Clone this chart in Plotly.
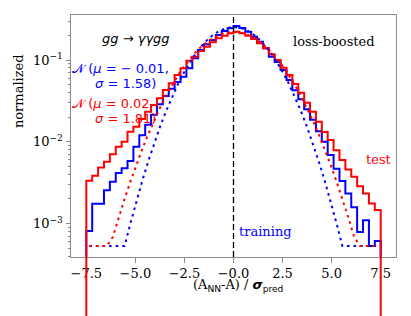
import numpy as np
import plotly.graph_objects as go

# ---------------- data ----------------
bin_lo, bin_hi, n_bins = -7.5, 7.5, 50

# training histogram (blue), normalized, one value per bin
train_hist = [8.1e-4, 1.75e-3, 1.75e-3, 2.56e-3, 3.24e-3, 4.14e-3, 4.76e-3, 5.81e-3, 8.71e-3, 1.20e-2,
              1.62e-2, 2.14e-2, 2.88e-2, 3.63e-2, 4.47e-2, 5.37e-2, 6.25e-2, 7.91e-2, 0.1050, 0.1324,
              0.1556, 0.1758, 0.2023, 0.2265, 0.2443, 0.2600, 0.2466, 0.2218, 0.1928, 0.1675,
              0.1390, 0.1096, 0.0946, 0.0755, 0.0569, 0.0427, 0.0331, 0.0251, 0.0186, 0.0135,
              0.0100, 6.92e-3, 4.68e-3, 3.31e-3, 2.34e-3, 1.58e-3, 7.9e-4, 1.10e-3, 5.3e-4, 6.1e-4]

# test histogram (red)
test_hist = [3.33e-3, 3.84e-3, 4.86e-3, 5.69e-3, 7.06e-3, 8.69e-3, 1.00e-2, 1.33e-2, 1.53e-2, 1.90e-2,
             2.33e-2, 2.81e-2, 3.40e-2, 4.30e-2, 5.19e-2, 6.55e-2, 7.91e-2, 9.77e-2, 0.1096, 0.1288,
             0.1455, 0.1648, 0.1845, 0.1982, 0.2123, 0.2223, 0.2123, 0.1982, 0.1807, 0.1600,
             0.1390, 0.1175, 0.1000, 0.0805, 0.0655, 0.0508, 0.0398, 0.0300, 0.0233, 0.0176,
             0.0132, 0.0105, 7.9e-3, 6.0e-3, 4.59e-3, 3.73e-3, 2.87e-3, 2.33e-3, 1.76e-3, 1.46e-3]

# Gaussian curves (dotted) read at bin centres
train_gauss = [5.3e-4, 5.3e-4, 5.3e-4, 5.3e-4, 5.3e-4, 5.3e-4, 5.3e-4, 1.01e-3, 1.87e-3, 3.32e-3,
               5.71e-3, 9.45e-3, 0.0151, 0.0233, 0.0346, 0.0496, 0.0687, 0.0916, 0.1179, 0.1464,
               0.1753, 0.2025, 0.2256, 0.2425, 0.2513, 0.2513, 0.2425, 0.2256, 0.2025, 0.1753,
               0.1464, 0.1179, 0.0916, 0.0687, 0.0496, 0.0346, 0.0233, 0.0151, 9.45e-3, 5.71e-3,
               3.32e-3, 1.87e-3, 1.01e-3, 5.3e-4, 5.3e-4, 5.3e-4, 5.3e-4, 5.3e-4, 5.3e-4, 5.3e-4]

test_gauss = [5.3e-4, 5.3e-4, 5.3e-4, 5.3e-4, 6.86e-4, 1.19e-3, 2.00e-3, 3.28e-3, 5.24e-3, 8.13e-3,
              0.01227, 0.0180, 0.0258, 0.0358, 0.0485, 0.0638, 0.0817, 0.1018, 0.1234, 0.1455,
              0.1669, 0.1863, 0.2022, 0.2137, 0.2196, 0.2196, 0.2137, 0.2022, 0.1863, 0.1669,
              0.1455, 0.1234, 0.1018, 0.0817, 0.0638, 0.0485, 0.0358, 0.0258, 0.0180, 0.01227,
              8.13e-3, 5.24e-3, 3.28e-3, 2.00e-3, 1.19e-3, 6.86e-4, 5.3e-4, 5.3e-4, 5.3e-4, 5.3e-4]

x_tick_vals = [-7.5, -5.0, -2.5, 0.0, 2.5, 5.0, 7.5]
x_tick_text = ["−7.5", "−5.0", "−2.5", "−0.0", "2.5", "5.0", "7.5"]
y_tick_vals = [1e-3, 1e-2, 1e-1]
y_tick_text = ["10<sup>−3</sup>", "10<sup>−2</sup>", "10<sup>−1</sup>"]

# ---------------- figure ----------------
edges = np.linspace(bin_lo, bin_hi, n_bins + 1)
centers = 0.5 * (edges[:-1] + edges[1:])
TINY = 1e-7


def step_xy(vals):
    vals = np.asarray(vals, dtype=float)
    xs = np.concatenate([[edges[0]], edges[:-1], [edges[-1], edges[-1]]])
    ys = np.concatenate([[TINY], vals, [vals[-1], TINY]])
    return xs, ys


BLUE = "#0000ff"
RED = "#ff0000"
AX = "#8a8a8a"

fig = go.Figure()
for vals, col in [(train_hist, BLUE), (test_hist, RED)]:
    xs, ys = step_xy(vals)
    fig.add_trace(go.Scatter(x=xs, y=ys, mode="lines", line=dict(color=col, width=2, shape="hv"),
                             hoverinfo="skip"))
for vals, col in [(train_gauss, BLUE), (test_gauss, RED)]:
    fig.add_trace(go.Scatter(x=centers, y=vals, mode="lines",
                             line=dict(color=col, width=2, dash="2.6px,4px"), hoverinfo="skip"))

shapes = [
    dict(type="line", xref="x", yref="paper", x0=0, x1=0, y0=0, y1=1,
         line=dict(color="black", width=1.3, dash="6px,3px")),
]
# the outermost step edges of the test histogram continue below the axes (log of zero)
for xe in (edges[0], edges[-1]):
    shapes.append(dict(type="line", xref="x", yref="paper", x0=xe, x1=xe, y0=0, y1=-0.4,
                       line=dict(color=RED, width=2)))

minor_vals = [m * 10.0 ** k for k in range(-4, 0) for m in range(2, 10)]

# the page body has an 8 px margin: the figure is sized / offset to fill the 411x316 window
fig.update_layout(
    template="none",
    width=403, height=308,
    margin=dict(l=63, r=15.3, t=7, b=59.3, pad=0),
    plot_bgcolor="white", paper_bgcolor="white",
    showlegend=False,
    shapes=shapes,
)
fig.update_xaxes(
    automargin=False,
    range=[-8.28, 8.28], tickvals=x_tick_vals, ticktext=x_tick_text,
    ticks="outside", ticklen=4.5, tickwidth=1, tickcolor=AX,
    showline=True, linecolor=AX, linewidth=1, mirror=True,
    showgrid=False, zeroline=False,
    tickfont=dict(family="DejaVu Serif", size=13, color="black"),
)
fig.update_yaxes(
    automargin=False,
    type="log", range=[-3.409, -0.449], tickvals=y_tick_vals, ticktext=y_tick_text,
    ticks="outside", ticklen=4.5, tickwidth=1, tickcolor=AX,
    showline=True, linecolor=AX, linewidth=1, mirror=True,
    showgrid=False, zeroline=False,
    tickfont=dict(family="DejaVu Serif", size=13, color="black"),
    minor=dict(tickvals=minor_vals, ticks="outside", ticklen=2.5, tickwidth=0.8, tickcolor=AX,
               showgrid=False),
)

SANS = "DejaVu Sans"
SERIF = "DejaVu Serif"
ann = [
    dict(text="<i>gg</i> → <i>γγgg</i>", x=0.1986, y=0.903, xanchor="center", yanchor="middle",
         font=dict(family=SANS, size=13, color="black")),
    dict(text="loss-boosted", x=0.8094, y=0.892, xanchor="center", yanchor="middle",
         font=dict(family=SERIF, size=13, color="black")),
    dict(text="𝒩 (<i>μ</i> = − 0.01,", x=-0.003, y=0.7795, xanchor="left", yanchor="middle",
         font=dict(family=SANS, size=13, color=BLUE)),
    dict(text="<i>σ</i> = 1.58)", x=0.0678, y=0.7174, xanchor="left", yanchor="middle",
         font=dict(family=SANS, size=13, color=BLUE)),
    dict(text="𝒩 (<i>μ</i> = 0.02,", x=-0.003, y=0.6347, xanchor="left", yanchor="middle",
         font=dict(family=SANS, size=13, color=RED)),
    dict(text="<i>σ</i> = 1.81)", x=0.0678, y=0.5726, xanchor="left", yanchor="middle",
         font=dict(family=SANS, size=13, color=RED)),
    dict(text="training", x=0.512, y=0.1034, xanchor="left", yanchor="middle",
         font=dict(family=SERIF, size=13, color=BLUE)),
    dict(text="test", x=0.900, y=0.404, xanchor="left", yanchor="middle",
         font=dict(family=SERIF, size=13, color=RED)),
    dict(text='(A<span style="font-family:DejaVu Sans"><sub>NN</sub></span>-A) / '
              '<span style="font-family:DejaVu Sans"><b><i>σ</i></b><sub>pred</sub></span>',
         x=0.5128, y=-0.116, xanchor="center", yanchor="middle",
         font=dict(family=SERIF, size=13, color="black")),
    dict(text="normalized", x=-0.163, y=0.6856, xanchor="center", yanchor="middle", textangle=-90,
         font=dict(family=SERIF, size=13, color="black")),
]
for a in ann:
    a.update(xref="paper", yref="paper", showarrow=False)
fig.update_layout(annotations=ann)

fig.write_html("out.html")
